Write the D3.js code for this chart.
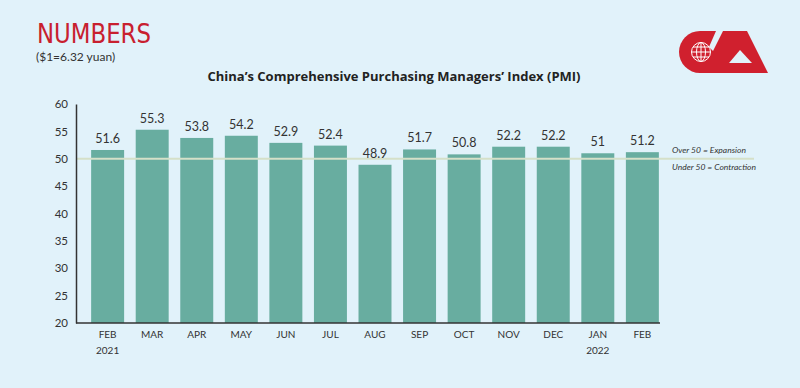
<!DOCTYPE html>
<html>
<head>
<meta charset="utf-8">
<script src="https://cdn.jsdelivr.net/npm/d3@7"></script>
<style>
  html, body { margin: 0; padding: 0; background: #e1f2fa; }
  svg { display: block; font-family: Lato, "Open Sans", sans-serif; }
</style>
</head>
<body>
<svg id="chart" width="800" height="388"></svg>
<script>
const months = ["FEB", "MAR", "APR", "MAY", "JUN", "JUL", "AUG", "SEP", "OCT", "NOV", "DEC", "JAN", "FEB"];
const years = ["2021", "", "", "", "", "", "", "", "", "", "", "2022", ""];
const pmi = [51.6, 55.3, 53.8, 54.2, 52.9, 52.4, 48.9, 51.7, 50.8, 52.2, 52.2, 51, 51.2];
const valueLabels = ["51.6", "55.3", "53.8", "54.2", "52.9", "52.4", "48.9", "51.7", "50.8", "52.2", "52.2", "51", "51.2"];
const yTicks = [20, 25, 30, 35, 40, 45, 50, 55, 60];

const svg = d3.select("#chart");
svg.append("rect").attr("width", 800).attr("height", 388).attr("fill", "#e1f2fa");

// header
svg.append("text")
    .attr("x", 37).attr("y", 43)
    .attr("fill", "#c8202f")
    .attr("font-family", "'DejaVu Sans Condensed', 'Liberation Sans Narrow', sans-serif")
    .attr("font-size", 27)
    .attr("textLength", 114)
    .attr("lengthAdjust", "spacingAndGlyphs")
    .text("NUMBERS");
svg.append("text")
    .attr("x", 36).attr("y", 61)
    .attr("fill", "#333")
    .attr("font-size", 12)
    .text("($1=6.32 yuan)");

svg.append("text")
    .attr("x", 394).attr("y", 81)
    .attr("text-anchor", "middle")
    .attr("fill", "#222")
    .attr("font-size", 13)
    .attr("font-weight", "bold")
    .attr("font-family", "'Open Sans', sans-serif")
    .text("China\u2019s Comprehensive Purchasing Managers\u2019 Index (PMI)");

// logo
const logo = svg.append("g");
logo.append("circle").attr("cx", 700).attr("cy", 52).attr("r", 21).attr("fill", "#d0202e");
logo.append("path").attr("fill", "#d0202e")
    .attr("d", "M700,31 L747,31 L768,73 L700,73 Z");
logo.append("path").attr("fill", "#e1f2fa")
    .attr("d", "M716,31 L723,31 L713,51 L709,47 Z");
logo.append("path").attr("fill", "#e1f2fa")
    .attr("d", "M740,50 L752,63 L729,63 Z");
const globe = logo.append("g").attr("fill", "none").attr("stroke", "#fff").attr("stroke-width", 1);
globe.append("circle").attr("cx", 701).attr("cy", 52).attr("r", 9.5);
globe.append("ellipse").attr("cx", 701).attr("cy", 52).attr("rx", 4.5).attr("ry", 9.5);
globe.append("line").attr("x1", 701).attr("x2", 701).attr("y1", 42.5).attr("y2", 61.5);
globe.append("line").attr("x1", 691.5).attr("x2", 710.5).attr("y1", 52).attr("y2", 52);
globe.append("line").attr("x1", 693).attr("x2", 709).attr("y1", 47).attr("y2", 47);
globe.append("line").attr("x1", 693).attr("x2", 709).attr("y1", 57).attr("y2", 57);

// scales
const x = d3.scaleBand()
    .domain(d3.range(months.length))
    .range([80, 670])
    .paddingInner(0.26)
    .paddingOuter(0.25);
const y = d3.scaleLinear().domain([20, 60]).range([323, 104]);

// bars
svg.append("g").selectAll("rect")
    .data(pmi)
    .join("rect")
    .attr("x", (d, i) => x(i))
    .attr("y", d => y(d))
    .attr("width", x.bandwidth())
    .attr("height", d => y(20) - y(d))
    .attr("fill", "#68ada0");

// 50 line
svg.append("line")
    .attr("x1", 76).attr("x2", 754)
    .attr("y1", y(50)).attr("y2", y(50))
    .attr("stroke", "#d5e0c8").attr("stroke-width", 2);

svg.append("text")
    .attr("x", 672).attr("y", y(50) - 6)
    .attr("font-size", 8.5).attr("font-style", "italic").attr("fill", "#333")
    .text("Over 50 = Expansion");
svg.append("text")
    .attr("x", 672).attr("y", y(50) + 11)
    .attr("font-size", 8.5).attr("font-style", "italic").attr("fill", "#333")
    .text("Under 50 = Contraction");

// value labels
svg.append("g").selectAll("text")
    .data(pmi)
    .join("text")
    .attr("x", (d, i) => x(i) + x.bandwidth() / 2)
    .attr("y", d => y(d) - 7)
    .attr("text-anchor", "middle")
    .attr("font-size", 12.5)
    .attr("fill", "#333")
    .text((d, i) => valueLabels[i]);

// y axis
const yAxis = svg.append("g")
    .attr("transform", "translate(76,0)")
    .call(d3.axisLeft(y).tickValues(yTicks).tickSize(0).tickPadding(8));
yAxis.select(".domain").attr("stroke", "#333").attr("stroke-width", 1.5);
yAxis.selectAll("text").attr("font-size", 11.5).attr("fill", "#333").attr("font-family", "Lato, sans-serif");

// x axis
svg.append("line")
    .attr("x1", 76).attr("x2", 660)
    .attr("y1", y(20)).attr("y2", y(20))
    .attr("stroke", "#333").attr("stroke-width", 1.5);

svg.append("g").selectAll("text")
    .data(months)
    .join("text")
    .attr("x", (d, i) => x(i) + x.bandwidth() / 2)
    .attr("y", 338)
    .attr("text-anchor", "middle")
    .attr("font-size", 10)
    .attr("fill", "#333")
    .text(d => d);

svg.append("g").selectAll("text")
    .data(years)
    .join("text")
    .attr("x", (d, i) => x(i) + x.bandwidth() / 2)
    .attr("y", 354)
    .attr("text-anchor", "middle")
    .attr("font-size", 10)
    .attr("fill", "#333")
    .text(d => d);
</script>
</body>
</html>
